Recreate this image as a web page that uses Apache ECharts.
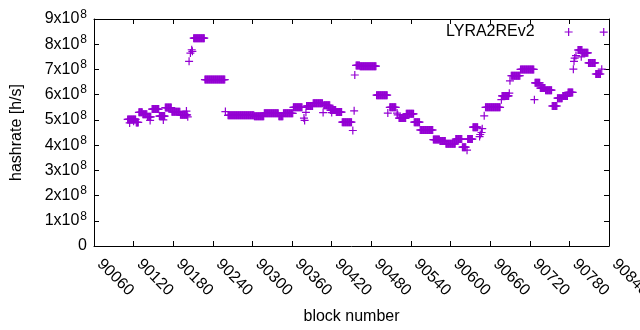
<!DOCTYPE html>
<html>
<head>
<meta charset="utf-8">
<script src="https://cdn.jsdelivr.net/npm/echarts@6/dist/echarts.min.js"></script>
<style>html,body{margin:0;padding:0;background:#fff}#c{width:640px;height:330px}</style>
</head>
<body>
<div id="c"></div>
<script>
// Runs of consecutive blocks sharing the same hashrate (units of 1e8 h/s)
var runStart = [90111,90124,90128,90134,90141,90148,90159,90168,90178,90191,90211,90228,90263,90303,90318,90340,90347,90362,90382,90392,90408,90418,90427,90436,90457,90463,90488,90508,90522,90533,90545,90554,90574,90584,90593,90608,90618,90626,90634,90653,90678,90692,90706,90728,90736,90744,90754,90762,90770,90778,90793,90800,90809,90820];
var runEnd   = [90123,90127,90133,90140,90146,90158,90167,90177,90190,90201,90227,90258,90302,90317,90339,90346,90361,90375,90391,90406,90417,90426,90435,90450,90462,90487,90504,90517,90532,90544,90553,90573,90583,90592,90607,90617,90623,90633,90641,90675,90688,90705,90726,90735,90743,90753,90761,90769,90777,90785,90799,90808,90819,90827];
var runHash  = [5.02,4.90,5.30,5.22,5.12,5.43,5.15,5.49,5.32,5.20,8.24,6.60,5.18,5.14,5.26,5.14,5.26,5.50,5.55,5.66,5.58,5.39,5.31,4.91,7.16,7.13,5.98,5.50,5.07,5.24,4.91,4.60,4.22,4.16,4.05,4.24,3.92,4.24,4.71,5.50,5.95,6.75,7.00,6.47,6.26,6.18,5.55,5.86,5.95,6.09,7.77,7.66,7.26,6.82];
// Isolated blocks
var pointBlock = [90114,90120,90145,90165,90200,90202,90204,90206,90208,90209,90259,90378,90379,90381,90407,90420,90452,90454,90455,90505,90519,90520,90625,90644,90645,90647,90648,90651,90677,90689,90690,90727,90786,90787,90788,90790,90798,90829,90832];
var pointHash  = [4.88,4.95,4.98,5.00,5.35,5.12,7.32,7.65,7.78,7.72,5.33,5.07,4.98,5.30,5.29,5.29,4.58,5.36,6.78,5.27,5.27,5.20,3.80,4.34,4.42,4.50,4.65,5.16,5.80,6.06,6.55,5.80,7.01,7.32,7.45,7.55,7.50,7.01,8.48];
var seriesName = 'LYRA2REv2';
var xMin = 90060, xMax = 90840, xStep = 60;
var yMax = 9, yStep = 1; // in 1e8

var data = [];
for (var i = 0; i < runStart.length; i++) {
  for (var b = runStart[i]; b <= runEnd[i]; b++) data.push([b, runHash[i] * 1e8]);
}
for (var j = 0; j < pointBlock.length; j++) data.push([pointBlock[j], pointHash[j] * 1e8]);

var plus = 'path://M3.4,0 H4.6 V3.4 H8 V4.6 H4.6 V8 H3.4 V4.6 H0 V3.4 H3.4 Z';
var font = 'Liberation Sans';
var chart = echarts.init(document.getElementById('c'), null, {renderer: 'canvas'});
var axisCommon = {
  axisLine: {show: true, onZero: false, lineStyle: {color: '#000', width: 1}},
  axisTick: {show: true, inside: true, length: 5, lineStyle: {color: '#000'}},
  splitLine: {show: false}
};
chart.setOption({
  animation: false,
  backgroundColor: '#fff',
  grid: {left: 94, right: 31, top: 19, bottom: 84, containLabel: false, outerBoundsMode: 'none'},
  legend: {
    data: [seriesName], left: 441, top: 19, align: 'right',
    itemWidth: 8, itemHeight: 8, icon: plus,
    textStyle: {fontFamily: font, fontSize: 16, color: '#000', padding: [0, 25, 0, 0]}
  },
  xAxis: [
    Object.assign({type: 'value', min: xMin, max: xMax, interval: xStep, position: 'bottom',
      name: 'block number', nameLocation: 'middle', nameGap: 63,
      nameTextStyle: {fontFamily: font, fontSize: 16, color: '#000'},
      axisLabel: {rotate: -45, margin: 10, padding: [0, 0, 11, 8], hideOverlap: false,
        showMinLabel: true, showMaxLabel: true,
        fontFamily: font, fontSize: 16, color: '#000',
        formatter: function (v) { return String(v); }}}, axisCommon),
    Object.assign({type: 'value', min: xMin, max: xMax, interval: xStep, position: 'top',
      axisLabel: {show: false}}, axisCommon)
  ],
  yAxis: [
    Object.assign({type: 'value', min: 0, max: yMax * 1e8, interval: yStep * 1e8, position: 'left',
      name: 'hashrate [h/s]', nameLocation: 'middle', nameGap: 69, nameRotate: 90,
      nameTextStyle: {fontFamily: font, fontSize: 16, color: '#000'},
      axisLabel: {margin: 7, fontFamily: font, fontSize: 16, color: '#000',
        formatter: function (v) { if (v === 0) return '0'; return '{m|' + Math.round(v / 1e8) + 'x10}{s|8}'; },
        rich: {m: {fontFamily: font, fontSize: 16, color: '#000'},
               s: {fontFamily: font, fontSize: 12, color: '#000', padding: [0, 0, 9, 1]}}}}, axisCommon),
    Object.assign({type: 'value', min: 0, max: yMax * 1e8, interval: yStep * 1e8, position: 'right',
      axisLabel: {show: false}}, axisCommon)
  ],
  series: [{
    name: seriesName, type: 'scatter', xAxisIndex: 0, yAxisIndex: 0,
    symbol: plus, symbolSize: 8, large: false,
    itemStyle: {color: '#9400D3', opacity: 1},
    data: data
  }]
});
</script>
</body>
</html>
